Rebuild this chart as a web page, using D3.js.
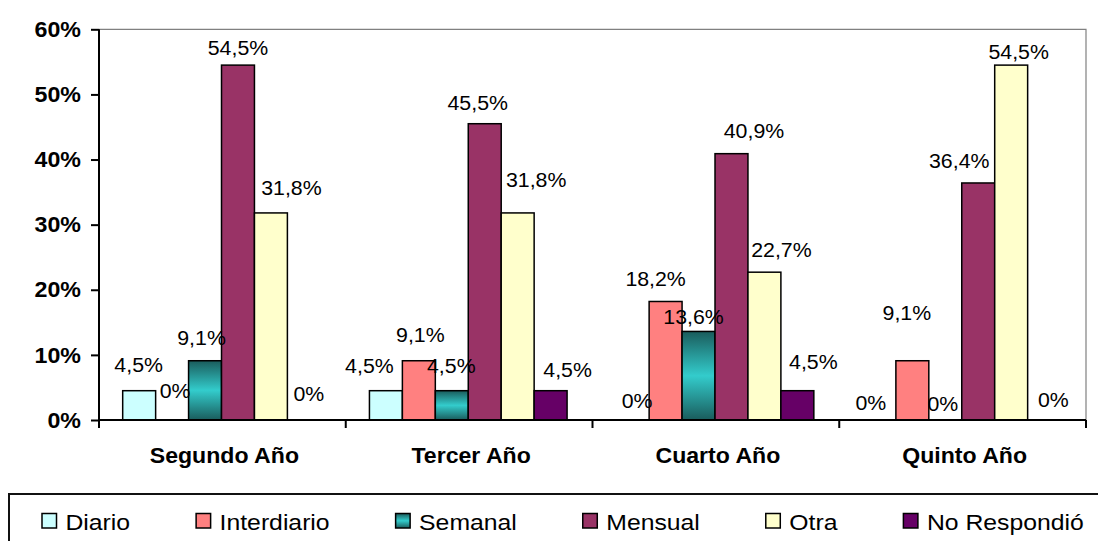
<!DOCTYPE html>
<html>
<head>
<meta charset="utf-8">
<script src="https://cdn.jsdelivr.net/npm/d3@7"></script>
<style>
  html, body { margin: 0; padding: 0; background: #fff; }
  svg { display: block; }
  text { font-family: "Liberation Sans", Arial, sans-serif; fill: #000; }
</style>
</head>
<body>
<svg id="chart" width="1098" height="541"></svg>
<script>
// ---- data ----
const categories = ["Segundo Año", "Tercer Año", "Cuarto Año", "Quinto Año"];
const seriesNames = ["Diario", "Interdiario", "Semanal", "Mensual", "Otra", "No Respondió"];
const diario      = [4.5, 4.5, 0, 0];
const interdiario = [0, 9.1, 18.2, 9.1];
const semanal     = [9.1, 4.5, 13.6, 0];
const mensual     = [54.5, 45.5, 40.9, 36.4];
const otra        = [31.8, 31.8, 22.7, 54.5];
const noRespondio = [0, 4.5, 4.5, 0];
const yTickValues = [0, 10, 20, 30, 40, 50, 60];

// ---- layout (label nudges: [dx from bar center, lift above bar top]) ----
const labelNudges = [
  [[-0.5, 19], [3, 22], [-3.5, 15.7], [0, 10], [20.5, 17.7], [5, 19.3]],
  [[-16.5, 18], [1.5, 19], [-0.5, 18], [-7, 13.4], [18.5, 26], [17, 14]],
  [[4.5, 12], [-10, 15.4], [-5, 7.3], [22.5, 15.4], [17, 15.4], [16, 21.4]],
  [[-8.5, 10], [-5.5, 40.7], [-2.5, 9.3], [-19, 14.7], [7.5, 6], [9.3, 13.3]]
];

const seriesValues = [diario, interdiario, semanal, mensual, otra, noRespondio];
const fills = ["#CCFFFF", "#FF8080", "url(#gradSemanal)", "#993366", "#FFFFCC", "#660066"];

const svg = d3.select("#chart");
const defs = svg.append("defs");
const g0 = defs.append("linearGradient").attr("id", "gradSemanal")
  .attr("x1", 0).attr("y1", 0).attr("x2", 0).attr("y2", 1);
g0.append("stop").attr("offset", "0%").attr("stop-color", "#1a5c5c");
g0.append("stop").attr("offset", "50%").attr("stop-color", "#33cccc");
g0.append("stop").attr("offset", "100%").attr("stop-color", "#1a5c5c");

const L = 99, R = 1086, T = 29.3, B = 420;
const x0 = d3.scaleBand().domain(categories).range([L, R]).padding(0);
const bw = x0.bandwidth();
const x1 = d3.scaleBand().domain(seriesNames).range([bw * 0.096, bw * 0.897]).padding(0);
const y = d3.scaleLinear().domain([0, 60]).range([B, T]);

function stretched(sel, x, yy, sx) {
  return sel.attr("x", 0).attr("y", 0)
    .attr("transform", `translate(${x},${yy}) scale(${sx},1)`);
}

// plot border (top/right gray)
svg.append("path")
  .attr("d", `M${L},${T}H${R}V${B}`)
  .attr("fill", "none").attr("stroke", "#808080").attr("stroke-width", 1.2);

// bars
const rows = [];
categories.forEach((c, ci) => {
  seriesNames.forEach((s, si) => {
    rows.push({ c, ci, s, si, v: seriesValues[si][ci] });
  });
});

const barG = svg.append("g");
barG.selectAll("rect").data(rows.filter(d => d.v > 0)).join("rect")
  .attr("x", d => x0(d.c) + x1(d.s))
  .attr("y", d => y(d.v))
  .attr("width", x1.bandwidth())
  .attr("height", d => B - y(d.v))
  .attr("fill", d => fills[d.si])
  .attr("stroke", "#000").attr("stroke-width", 1.5);

// axes
const yAxis = svg.append("g").attr("transform", `translate(${L},0)`)
  .call(d3.axisLeft(y).tickValues(yTickValues).tickSize(8).tickFormat(d => d + "%"));
yAxis.attr("font-family", null).attr("font-size", null);
yAxis.select(".domain").attr("stroke", "#000").attr("stroke-width", 2)
  .attr("d", `M0,${T}V${B}`);
yAxis.selectAll(".tick line").attr("stroke", "#000").attr("stroke-width", 2);
yAxis.selectAll(".tick text").each(function (d) {
  const t = d3.select(this);
  t.attr("text-anchor", "end").attr("dy", null)
    .style("font-size", "21.5px").style("font-weight", "bold")
    .attr("dominant-baseline", "central");
  stretched(t, -18, 0, 1.08);
});

// x axis line + boundary ticks
const xAxisG = svg.append("g");
xAxisG.append("line").attr("x1", L - 1).attr("x2", R).attr("y1", B).attr("y2", B)
  .attr("stroke", "#000").attr("stroke-width", 2);
const boundaries = categories.map(c => x0(c)).concat([x0.range()[1]]);
xAxisG.selectAll("line.tk").data(boundaries).join("line").attr("class", "tk")
  .attr("x1", d => d).attr("x2", d => d).attr("y1", B).attr("y2", B + 8)
  .attr("stroke", "#000").attr("stroke-width", 2);
xAxisG.selectAll("text.cat").data(categories).join("text").attr("class", "cat")
  .attr("text-anchor", "middle").style("font-size", "22px").style("font-weight", "bold")
  .text(d => d)
  .each(function (d) { stretched(d3.select(this), x0(d) + bw / 2 + 2, 463, 1.05); });

// value labels
const fmt = v => String(v).replace(".", ",") + "%";
svg.append("g").selectAll("text").data(rows).join("text")
  .attr("text-anchor", "middle").style("font-size", "20.5px")
  .text(d => fmt(d.v))
  .each(function (d) {
    const nud = labelNudges[d.ci][d.si];
    const cx = x0(d.c) + x1(d.s) + x1.bandwidth() / 2 + nud[0];
    const yy = y(d.v) - nud[1];
    stretched(d3.select(this), cx, yy, 1.04);
  });

// legend
const legG = svg.append("g");
legG.append("rect").attr("x", 9).attr("y", 494).attr("width", 1200).attr("height", 100)
  .attr("fill", "none").attr("stroke", "#111").attr("stroke-width", 2);
let lx = 42;
seriesNames.forEach((s, si) => {
  legG.append("rect").attr("x", lx).attr("y", 513.5).attr("width", 14.5).attr("height", 14.5)
    .attr("fill", fills[si]).attr("stroke", "#000").attr("stroke-width", 1.5);
  const t = legG.append("text").style("font-size", "22.5px").text(s);
  const sx = 1.1;
  stretched(t, lx + 23.5, 529.5, sx);
  const w = t.node().getComputedTextLength() * sx;
  lx = lx + 23.5 + w + 66;
});
</script>
</body>
</html>
